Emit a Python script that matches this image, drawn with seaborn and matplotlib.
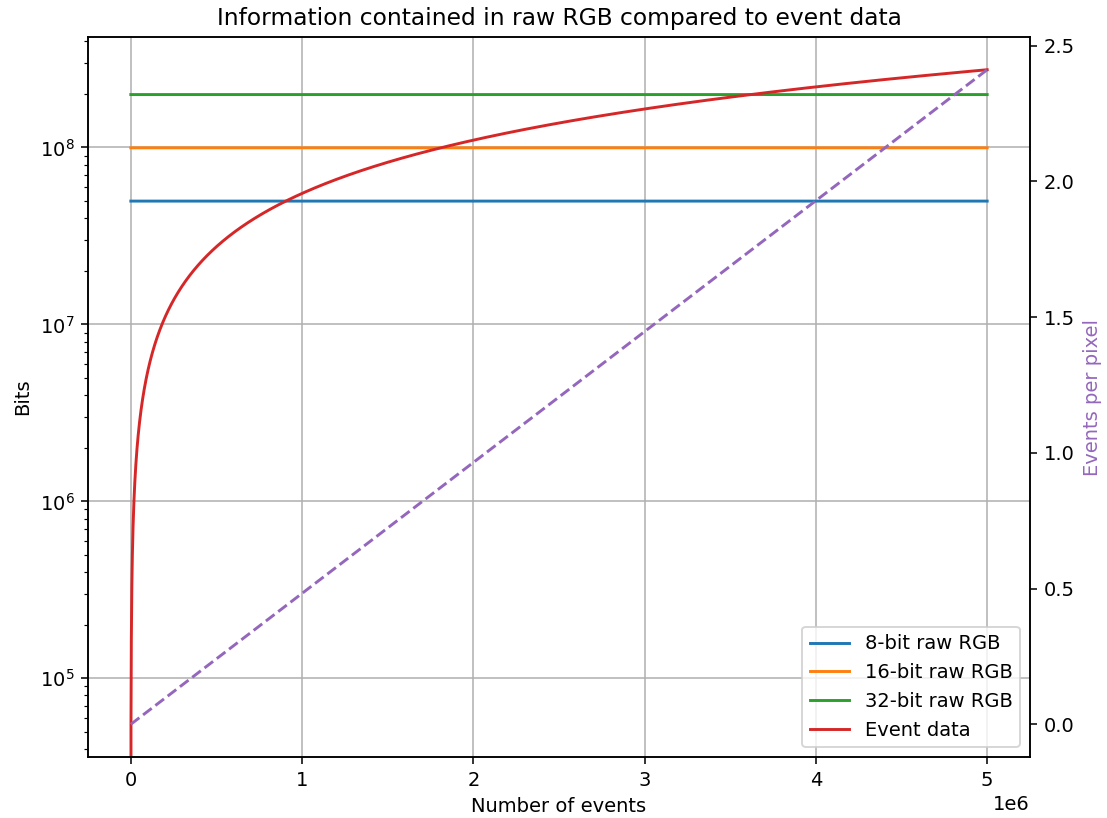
import numpy as np
import matplotlib
matplotlib.use("Agg")
import matplotlib.pyplot as plt
import seaborn as sns

# Sensor geometry (Full HD frame)
frame_width = 1920
frame_height = 1080

# Raw RGB frame encodings
rgb_bit_depths = [8, 16, 32]
rgb_labels = ["8-bit raw RGB", "16-bit raw RGB", "32-bit raw RGB"]
rgb_colors = ["tab:blue", "tab:orange", "tab:green"]

# One event: 32-bit timestamp + 11-bit x + 11-bit y + 1-bit polarity
bits_per_event = 55
max_events = 5_000_000
event_step = 1_000

num_pixels = frame_width * frame_height
n_events = np.arange(0, max_events + event_step, event_step)
event_bits = n_events * bits_per_event
events_per_pixel = n_events / num_pixels

dpi = 140
fig = plt.figure(figsize=(1107 / dpi, 818 / dpi), dpi=dpi)
ax = fig.add_axes([88 / 1107, 1 - 757 / 818, (1030 - 88) / 1107, (757 - 37) / 818])

for depth, label, color in zip(rgb_bit_depths, rgb_labels, rgb_colors):
    frame_bits = np.full(n_events.shape, num_pixels * 3 * depth, dtype=float)
    sns.lineplot(x=n_events, y=frame_bits, ax=ax, color=color, label=label,
                 estimator=None, sort=False, legend=False)

sns.lineplot(x=n_events, y=event_bits.astype(float), ax=ax, color="tab:red",
             label="Event data", estimator=None, sort=False, legend=False)

ax.set_yscale("log")
ax.grid(True)
ax.set_xlabel("Number of events")
ax.set_ylabel("Bits")
ax.set_title("Information contained in raw RGB compared to event data")
ax.legend(loc="lower right")

ax2 = ax.twinx()
sns.lineplot(x=n_events, y=events_per_pixel, ax=ax2, color="tab:purple",
             linestyle="--", estimator=None, sort=False, legend=False)
ax2.set_ylabel("Events per pixel", color="tab:purple")

fig.savefig("out.png", dpi=dpi)
